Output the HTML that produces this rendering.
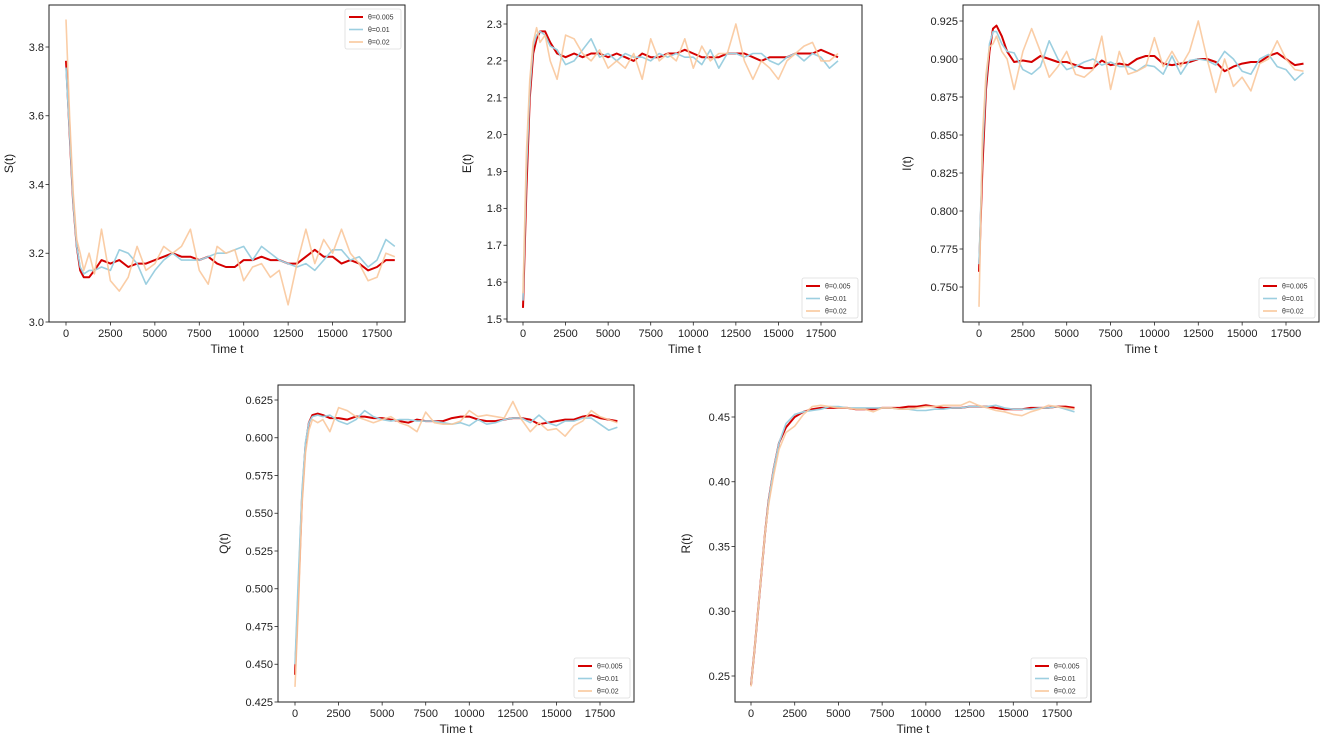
<!DOCTYPE html>
<html><head><meta charset="utf-8"><style>
html,body{margin:0;padding:0;background:#fff;}
svg{display:block;font-family:"Liberation Sans","DejaVu Sans",sans-serif;}
</style></head><body>
<svg id="fig" width="1325" height="746" viewBox="0 0 1325 746" xmlns="http://www.w3.org/2000/svg"></svg>
<script>
const T=[0,200,400,600,800,1000,1300,1600,2000,2500,3000,3500,4000,4500,5000,5500,6000,6500,7000,7500,8000,8500,9000,9500,10000,10500,11000,11500,12000,12500,13000,13500,14000,14500,15000,15500,16000,16500,17000,17500,18000,18500];
const xTicks=[0,2500,5000,7500,10000,12500,15000,17500];
const legendLabels=["θ=0.005","θ=0.01","θ=0.02"];

const S_red=[3.76,3.55,3.35,3.22,3.15,3.13,3.13,3.15,3.18,3.17,3.18,3.16,3.17,3.17,3.18,3.19,3.20,3.19,3.19,3.18,3.19,3.17,3.16,3.16,3.18,3.18,3.19,3.18,3.18,3.17,3.17,3.19,3.21,3.19,3.19,3.17,3.18,3.17,3.15,3.16,3.18,3.18];
const S_blue=[3.74,3.55,3.35,3.22,3.16,3.14,3.15,3.15,3.16,3.15,3.21,3.2,3.17,3.11,3.15,3.18,3.2,3.18,3.18,3.18,3.19,3.2,3.2,3.21,3.22,3.18,3.22,3.2,3.18,3.17,3.16,3.17,3.15,3.18,3.21,3.21,3.18,3.19,3.16,3.18,3.24,3.22];
const S_orange=[3.88,3.6,3.38,3.24,3.2,3.15,3.2,3.14,3.27,3.12,3.09,3.13,3.22,3.15,3.17,3.22,3.2,3.22,3.27,3.15,3.11,3.22,3.2,3.21,3.12,3.16,3.17,3.13,3.15,3.05,3.17,3.27,3.17,3.24,3.2,3.27,3.2,3.17,3.12,3.13,3.2,3.19];
const S_ticks=[3.0,3.2,3.4,3.6,3.8];

const E_red=[1.53,1.85,2.1,2.22,2.26,2.28,2.28,2.25,2.22,2.21,2.22,2.21,2.22,2.22,2.21,2.22,2.21,2.2,2.22,2.21,2.21,2.22,2.22,2.23,2.22,2.21,2.21,2.21,2.22,2.22,2.22,2.21,2.2,2.21,2.21,2.21,2.22,2.22,2.22,2.23,2.22,2.21];
const E_blue=[1.55,1.9,2.12,2.24,2.27,2.28,2.27,2.24,2.23,2.19,2.2,2.23,2.26,2.21,2.22,2.2,2.22,2.21,2.21,2.2,2.22,2.21,2.22,2.21,2.21,2.19,2.23,2.18,2.22,2.22,2.21,2.22,2.22,2.2,2.19,2.21,2.22,2.2,2.22,2.21,2.18,2.2];
const E_orange=[1.57,1.95,2.15,2.25,2.29,2.25,2.27,2.2,2.15,2.27,2.26,2.22,2.2,2.23,2.18,2.2,2.18,2.22,2.15,2.26,2.2,2.22,2.2,2.26,2.18,2.24,2.2,2.22,2.22,2.3,2.2,2.15,2.2,2.18,2.15,2.2,2.22,2.24,2.25,2.2,2.2,2.22];
const E_ticks=[1.5,1.6,1.7,1.8,1.9,2.0,2.1,2.2,2.3];

const I_red=[0.76,0.83,0.88,0.905,0.92,0.922,0.915,0.905,0.898,0.899,0.898,0.902,0.9,0.898,0.898,0.896,0.894,0.894,0.899,0.896,0.897,0.896,0.9,0.902,0.902,0.897,0.896,0.897,0.898,0.9,0.9,0.898,0.892,0.895,0.897,0.898,0.898,0.902,0.904,0.9,0.896,0.897];
const I_blue=[0.765,0.84,0.885,0.91,0.918,0.918,0.91,0.905,0.904,0.893,0.89,0.895,0.912,0.9,0.893,0.895,0.898,0.9,0.896,0.898,0.895,0.895,0.892,0.896,0.895,0.89,0.902,0.89,0.899,0.9,0.899,0.896,0.905,0.9,0.892,0.89,0.9,0.903,0.895,0.893,0.886,0.891];
const I_orange=[0.737,0.85,0.89,0.908,0.91,0.915,0.905,0.9,0.88,0.905,0.92,0.905,0.888,0.895,0.905,0.89,0.888,0.893,0.915,0.88,0.905,0.89,0.892,0.895,0.914,0.895,0.905,0.895,0.905,0.925,0.9,0.878,0.9,0.882,0.888,0.879,0.897,0.9,0.912,0.9,0.893,0.892];
const I_ticks=[0.750,0.775,0.800,0.825,0.850,0.875,0.900,0.925];

const Q_red=[0.443,0.5,0.56,0.595,0.61,0.615,0.616,0.615,0.613,0.613,0.612,0.614,0.614,0.613,0.613,0.612,0.611,0.61,0.612,0.611,0.611,0.611,0.613,0.614,0.614,0.612,0.611,0.611,0.612,0.613,0.613,0.612,0.609,0.61,0.611,0.612,0.612,0.614,0.615,0.613,0.612,0.611];
const Q_blue=[0.45,0.51,0.565,0.597,0.61,0.614,0.615,0.614,0.615,0.611,0.609,0.612,0.618,0.614,0.612,0.611,0.612,0.612,0.611,0.611,0.611,0.61,0.609,0.61,0.608,0.612,0.609,0.61,0.612,0.613,0.613,0.61,0.615,0.61,0.608,0.611,0.611,0.613,0.613,0.609,0.605,0.607];
const Q_orange=[0.435,0.49,0.555,0.59,0.605,0.612,0.61,0.612,0.604,0.62,0.618,0.614,0.612,0.61,0.612,0.614,0.61,0.608,0.604,0.617,0.61,0.609,0.609,0.611,0.618,0.614,0.615,0.614,0.613,0.624,0.612,0.604,0.61,0.605,0.606,0.601,0.608,0.611,0.618,0.614,0.612,0.61];
const Q_ticks=[0.425,0.450,0.475,0.500,0.525,0.550,0.575,0.600,0.625];

const R_red=[0.243,0.27,0.3,0.33,0.36,0.385,0.41,0.43,0.442,0.45,0.454,0.456,0.457,0.457,0.457,0.457,0.456,0.456,0.456,0.457,0.457,0.457,0.458,0.458,0.459,0.458,0.457,0.457,0.457,0.458,0.458,0.458,0.457,0.456,0.456,0.456,0.457,0.457,0.457,0.458,0.458,0.457];
const R_blue=[0.243,0.27,0.3,0.33,0.36,0.385,0.41,0.43,0.445,0.452,0.454,0.455,0.456,0.458,0.458,0.457,0.457,0.457,0.457,0.457,0.457,0.456,0.456,0.455,0.455,0.456,0.456,0.457,0.457,0.458,0.458,0.458,0.459,0.457,0.456,0.456,0.456,0.457,0.457,0.458,0.456,0.454];
const R_orange=[0.242,0.27,0.3,0.33,0.36,0.382,0.405,0.425,0.438,0.443,0.452,0.458,0.459,0.458,0.457,0.457,0.456,0.456,0.454,0.457,0.457,0.456,0.456,0.457,0.458,0.458,0.459,0.459,0.459,0.462,0.459,0.457,0.455,0.454,0.452,0.451,0.454,0.456,0.459,0.458,0.457,0.456];
const R_ticks=[0.25,0.30,0.35,0.40,0.45];

const NS="http://www.w3.org/2000/svg";
const svg=document.getElementById('fig');
function mk(tag,attrs,parent){const e=document.createElementNS(NS,tag);for(const k in attrs)e.setAttribute(k,attrs[k]);(parent||svg).appendChild(e);return e;}
const colors=["#d40000","#9ccfe0","#f9c89c"];
const widths=[2,1.6,1.6];

const panels=[
 {key:"s",label:"S(t)",box:[49,5,405,322],x0:66,x1:377,ya:[3.0,322],yb:[3.8,47],ticks:S_ticks,dec:1,series:[S_red,S_blue,S_orange],leg:"top",labX:13},
 {key:"e",label:"E(t)",box:[507,5,862,322],x0:523,x1:821,ya:[1.5,319],yb:[2.3,24],ticks:E_ticks,dec:1,series:[E_red,E_blue,E_orange],leg:"bottom",labX:471},
 {key:"i",label:"I(t)",box:[963,5,1319,322],x0:979,x1:1286,ya:[0.75,287],yb:[0.925,21],ticks:I_ticks,dec:3,series:[I_red,I_blue,I_orange],leg:"bottom",labX:911},
 {key:"q",label:"Q(t)",box:[278,385,634,702],x0:295,x1:600,ya:[0.425,702],yb:[0.625,400],ticks:Q_ticks,dec:3,series:[Q_red,Q_blue,Q_orange],leg:"bottom",labX:228},
 {key:"r",label:"R(t)",box:[735,385,1091,702],x0:751,x1:1057,ya:[0.25,676],yb:[0.45,417],ticks:R_ticks,dec:2,series:[R_red,R_blue,R_orange],leg:"bottom",labX:690}
];

panels.forEach(p=>{
  const [L,Tp,Rb,B]=p.box;
  const g=mk('g',{});
  
  
  const xs=v=>p.x0+(p.x1-p.x0)*v/17500;
  const ys=v=>p.ya[1]+(p.yb[1]-p.ya[1])*(v-p.ya[0])/(p.yb[0]-p.ya[0]);
  const cp='clip-'+p.key;
  const cl=mk('clipPath',{id:cp},g);mk('rect',{x:L,y:Tp,width:Rb-L,height:B-Tp},cl);
  p.series.forEach((arr,si)=>{
    const d=arr.map((v,i)=>(i?'L':'M')+xs(T[i]).toFixed(1)+','+ys(v).toFixed(1)).join('');
    const path=mk('path',{d:d,fill:'none',stroke:colors[si],'stroke-width':widths[si],'stroke-linejoin':'round','clip-path':'url(#'+cp+')',opacity:si==2?0.9:1},g);
    
    
  });
  const fr=mk('rect',{x:L,y:Tp,width:Rb-L,height:B-Tp,fill:'none',stroke:'#222','stroke-width':1},g);
  
  
  xTicks.forEach(t=>{
    const x=xs(t);
    mk('line',{x1:x,y1:B,x2:x,y2:B+3.5,stroke:'#222','stroke-width':0.8},g);
    const tx=mk('text',{x:x,y:B+15,'font-size':11,'text-anchor':'middle',fill:'#222'},g);
    tx.textContent=String(t);
    
    
  });
  p.ticks.forEach(v=>{
    const y=ys(v);
    mk('line',{x1:L-3.5,y1:y,x2:L,y2:y,stroke:'#222','stroke-width':0.8},g);
    const tx=mk('text',{x:L-5,y:y+3.8,'font-size':11,'text-anchor':'end',fill:'#222'},g);
    tx.textContent=v.toFixed(p.dec);
    
    
  });
  const xl=mk('text',{x:(L+Rb)/2,y:B+31,'font-size':12,'text-anchor':'middle',fill:'#222'},g);
  xl.textContent='Time t';
  
  
  const cy=(Tp+B)/2;
  const yl=mk('text',{x:p.labX,y:cy,'font-size':12,'text-anchor':'middle',fill:'#222',transform:'rotate(-90 '+p.labX+' '+cy+')'},g);
  yl.textContent=p.label;
  
  
  const lw=56,lh=40;
  const lx=Rb-4-lw, ly=p.leg==="top"?Tp+4:B-4-lh;
  const lg=mk('g',{},g);
  
  
  mk('rect',{x:lx,y:ly,width:lw,height:lh,rx:2,fill:'#fff',stroke:'#ddd','stroke-width':0.8},lg);
  legendLabels.forEach((lab,i)=>{
    const yy=ly+8+i*12.5;
    mk('line',{x1:lx+4,y1:yy,x2:lx+18,y2:yy,stroke:colors[i],'stroke-width':widths[i]},lg);
    const t=mk('text',{x:lx+23,y:yy+2.5,'font-size':7,fill:'#333'},lg);
    t.textContent=lab;
    
    
  });
});
</script>
</body></html>
